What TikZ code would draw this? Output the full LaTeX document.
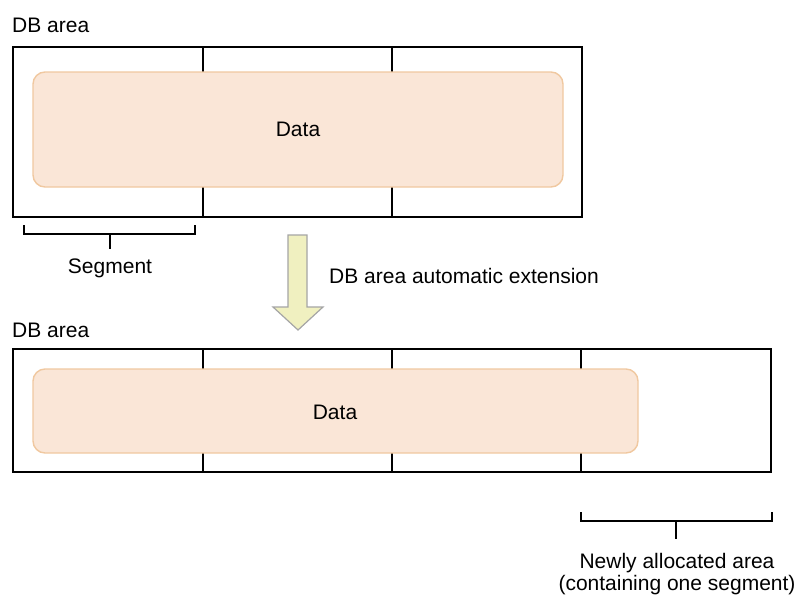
\documentclass[tikz,border=0pt]{standalone}
\usepackage{fontspec}
\setmainfont{Liberation Sans}
\begin{document}
\begin{tikzpicture}[x=1pt,y=-1pt,
  frame/.style={draw=black,line width=1.6pt},
  divider/.style={draw=black,line width=1.6pt},
  datablock/.style={draw={rgb,255:red,240;green,200;blue,160},fill={rgb,255:red,250;green,230;blue,215},line width=1.4pt,rounded corners=12pt},
  brace/.style={draw=black,line width=1.5pt},
  lbl/.style={font=\fontsize{21}{24}\selectfont,inner sep=0pt},
  bigarrow/.style={draw={rgb,255:red,165;green,165;blue,165},fill={rgb,255:red,240;green,240;blue,192},line width=1.2pt}]
\useasboundingbox (0,0) rectangle (799,594);

% ---- before extension ----
\node[lbl,anchor=base west] (lblA) at (12,33) {DB area};
\draw[frame] (13,47) rectangle (582,217);
\draw[divider] (203,47) -- (203,217);
\draw[divider] (392,47) -- (392,217);
\draw[datablock] (33,72) rectangle (563,187);
\node[lbl,anchor=base] (dataA) at (298,136) {Data};

% segment bracket
\draw[brace] (24,225) -- (24,234) -- (195,234) -- (195,225);
\draw[brace] (110,234) -- (110,249);
\node[lbl,anchor=base] (seg) at (110,273) {Segment};

% ---- extension arrow ----
\draw[bigarrow] (288,235) -- (307,235) -- (307,307) -- (323,307) -- (298,330)
  -- (273,307) -- (288,307) -- cycle;
\node[lbl,anchor=base west] (ext) at (329,283) {DB area automatic extension};

% ---- after extension ----
\node[lbl,anchor=base west] (lblB) at (12,337) {DB area};
\draw[frame] (13,349) rectangle (771,472);
\draw[divider] (203,349) -- (203,472);
\draw[divider] (392,349) -- (392,472);
\draw[divider] (581,349) -- (581,472);
\draw[datablock] (33,369) rectangle (638,453);
\node[lbl,anchor=base] (dataB) at (335,419) {Data};

% new area bracket
\draw[brace] (581,512) -- (581,521) -- (772,521) -- (772,512);
\draw[brace] (676,521) -- (676,539);
\node[lbl,anchor=base] (newarea) at (677,568) {Newly allocated area};
\node[lbl,anchor=base] (newareab) at (677,590) {(containing one segment)};
\end{tikzpicture}
\end{document}
